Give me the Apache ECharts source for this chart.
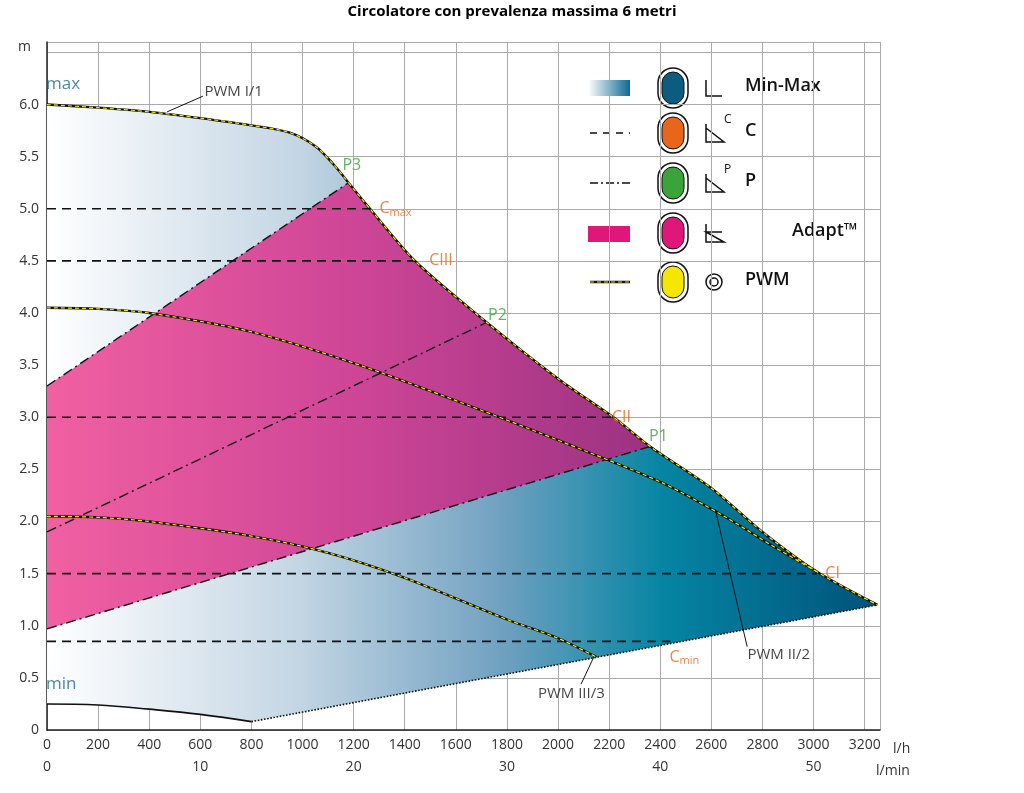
<!DOCTYPE html>
<html>
<head>
<meta charset="UTF-8">
<title>Circolatore</title>
<script src="https://cdn.jsdelivr.net/npm/echarts@6/dist/echarts.min.js"></script>
<style>html,body{margin:0;padding:0;background:#fff}#main{width:1024px;height:793px}</style>
</head>
<body>
<div id="main"></div>
<script>
// curva massima (PWM I/1) e bordo destro
var maxCurve = [[0,6.0],[200,5.97],[400,5.93],[600,5.87],[800,5.8],[950,5.73],[1050,5.6],[1120,5.43],[1180,5.25]];
var maxEdge = [[1180,5.25],[1264,5.0],[1440,4.5],[1721,3.91],[2000,3.37],[2222,2.99],[2360,2.72],[2600,2.32],[2800,1.9],[3012,1.52],[3250,1.2]];
var minCurve = [[0,0.25],[200,0.24],[400,0.2],[600,0.15],[800,0.08]];
var minLine = [[800,0.08],[3250,1.2]];
var pwm2 = [[0,4.05],[200,4.04],[400,4.0],[800,3.82],[1200,3.52],[1600,3.16],[2000,2.78],[2400,2.38],[2650,2.05],[2850,1.75],[3012,1.52]];
var pwm3 = [[0,2.05],[200,2.04],[400,2.0],[800,1.86],[1100,1.7],[1400,1.46],[1800,1.06],[2000,0.88],[2150,0.7]];
var cLevels = [[5.0,1264],[4.5,1440],[3.0,2222],[1.5,3012],[0.85,2440]];
var pLines = [[[0,3.3],[1180,5.25]],[[0,1.9],[1721,3.91]],[[0,0.97],[2360,2.72]]];
var xTicks = [0,200,400,600,800,1000,1200,1400,1600,1800,2000,2200,2400,2600,2800,3000,3200];

var blueArea = maxCurve.concat(maxEdge.slice(1)).concat(minLine.slice().reverse()).concat(minCurve.slice().reverse());
var pinkArea = [[0,0.97],[0,3.3],[1180,5.25]].concat(maxEdge.slice(1,7));

function polySeries(pts, fill, z) {
  return {
    type: 'custom', z: z, silent: true, data: [[0, 0]],
    renderItem: function (params, api) {
      return { type: 'polygon', shape: { points: pts.map(function (p) { return api.coord(p); }) }, style: { fill: fill } };
    }
  };
}
function line(data, color, width, type, z, smooth) {
  return { type: 'line', data: data, symbol: 'none', smooth: smooth || false, z: z, silent: true,
    lineStyle: { color: color, width: width, type: type } };
}
function pwm(data) {
  return [line(data, '#111', 2.4, 'solid', 5, 0.3), line(data, '#f5e600', 1.2, [4, 3], 6, 0.3)];
}

var series = [];
series.push(polySeries(blueArea, new echarts.graphic.LinearGradient(0, 0, 1, 0, [
  { offset: 0, color: '#ffffff' }, { offset: 0.3, color: '#c4d6e4' }, { offset: 0.55, color: '#6fa0c0' },
  { offset: 0.74, color: '#0685a3' }, { offset: 1, color: '#00527a' }]), 1));
series.push(polySeries(pinkArea, new echarts.graphic.LinearGradient(0, 0, 1, 0, [
  { offset: 0, color: '#f060a2' }, { offset: 0.5, color: '#cf4697' }, { offset: 1, color: '#9c3282' }]), 2));
cLevels.forEach(function (c) { series.push(line([[0, c[0]], [c[1], c[0]]], '#111', 1.6, [9, 6], 4)); });
pLines.forEach(function (p) { series.push(line(p, '#111', 1.4, [10, 4, 2, 4], 4)); });
series.push(line(minLine, '#111', 1.6, 'dotted', 5));
series.push(line(minCurve, '#111', 1.6, 'solid', 5, 0.4));
series = series.concat(pwm(maxCurve), pwm(maxEdge), pwm(pwm2), pwm(pwm3));
// linee di richiamo
series.push(line([[470, 5.93], [610, 6.08]], '#111', 1, 'solid', 7));
series.push(line([[2615, 2.12], [2740, 0.8]], '#111', 1, 'solid', 7));
series.push(line([[2140, 0.7], [2090, 0.44]], '#111', 1, 'solid', 7));

function labels(items, color, size) {
  return { type: 'scatter', symbolSize: 0, z: 10, silent: true,
    data: items.map(function (d) { return { value: [d[1], d[2]], name: d[0] }; }),
    label: { show: true, formatter: function (p) { return p.name; }, color: color, fontSize: size,
      fontFamily: 'Open Sans', position: 'right', offset: [-6, 0],
      rich: { s: { fontSize: 11, color: color, padding: [8, 0, 0, 0] } } } };
}
series.push(labels([['C{s|max}', 1305, 5.0], ['CIII', 1500, 4.5], ['CII', 2215, 3.0], ['CI', 3050, 1.5], ['C{s|min}', 2440, 0.7]], '#e8651c', 16));
series.push(labels([['P3', 1160, 5.42], ['P2', 1730, 3.98], ['P1', 2360, 2.82]], '#3aa33a', 16));
series.push(labels([['max', 0, 6.2], ['min', 0, 0.44]], '#1a6d90', 17));
series.push(labels([['PWM I/1', 620, 6.12], ['PWM II/2', 2745, 0.72], ['PWM III/3', 1925, 0.35]], '#111', 15));

var legendRows = [
  { y: 88, text: 'Min-Max', x: 745, oval: '#0b5c80' },
  { y: 133, text: 'C', x: 745, oval: '#e8651c' },
  { y: 183, text: 'P', x: 745, oval: '#3aa33a' },
  { y: 233, text: 'Adapt™', x: 792, oval: '#e0177a' },
  { y: 282, text: 'PWM', x: 745, oval: '#f5e600' }
];
var graphic = [
  { type: 'text', left: 'center', top: 4, style: { text: 'Circolatore con prevalenza massima 6 metri', font: 'bold 15px "Open Sans"', fill: '#000' } },
  { type: 'text', left: 18, top: 40, style: { text: 'm', font: '14px "Open Sans"', fill: '#333' } },
  { type: 'text', left: 893, top: 742, style: { text: 'l/h', font: '14px "Open Sans"', fill: '#333' } },
  { type: 'text', left: 876, top: 764, style: { text: 'l/min', font: '14px "Open Sans"', fill: '#333' } },
  { type: 'rect', shape: { x: 588, y: 80, width: 42, height: 16 }, style: { fill: new echarts.graphic.LinearGradient(0, 0, 1, 0, [{ offset: 0, color: '#ffffff' }, { offset: 1, color: '#0b6a92' }]) } },
  { type: 'line', shape: { x1: 590, y1: 133, x2: 630, y2: 133 }, style: { stroke: '#111', lineWidth: 1.6, lineDash: [7, 6] } },
  { type: 'line', shape: { x1: 590, y1: 183, x2: 630, y2: 183 }, style: { stroke: '#111', lineWidth: 1.4, lineDash: [8, 3, 2, 3] } },
  { type: 'rect', shape: { x: 588, y: 226, width: 42, height: 16 }, style: { fill: '#e0177a' } },
  { type: 'line', shape: { x1: 590, y1: 282, x2: 630, y2: 282 }, style: { stroke: '#111', lineWidth: 2.4 } },
  { type: 'line', shape: { x1: 590, y1: 282, x2: 630, y2: 282 }, style: { stroke: '#f5e600', lineWidth: 1.2, lineDash: [4, 3] } }
];
legendRows.forEach(function (r) {
  graphic.push({ type: 'rect', shape: { x: 658, y: r.y - 20, width: 30, height: 40, r: 15 }, style: { fill: '#fff', stroke: '#111', lineWidth: 1.5 } });
  graphic.push({ type: 'rect', shape: { x: 662, y: r.y - 16, width: 22, height: 32, r: 11 }, style: { fill: r.oval, stroke: '#111', lineWidth: 1 } });
  graphic.push({ type: 'text', left: r.x, top: r.y - 11, style: { text: r.text, font: '600 18px "Open Sans"', fill: '#111' } });
});
graphic.push({ type: 'polyline', shape: { points: [[706, 80], [706, 96], [722, 96]] }, style: { stroke: '#111', fill: null, lineWidth: 1.5 } });
graphic.push({ type: 'polyline', shape: { points: [[706, 124], [706, 142], [724, 142], [706, 128]] }, style: { stroke: '#111', fill: null, lineWidth: 1.5 } });
graphic.push({ type: 'text', left: 724, top: 114, style: { text: 'C', font: '12px "Open Sans"', fill: '#111' } });
graphic.push({ type: 'polyline', shape: { points: [[706, 174], [706, 192], [724, 192], [706, 178]] }, style: { stroke: '#111', fill: null, lineWidth: 1.5 } });
graphic.push({ type: 'text', left: 724, top: 164, style: { text: 'P', font: '12px "Open Sans"', fill: '#111' } });
graphic.push({ type: 'polyline', shape: { points: [[706, 224], [706, 242], [724, 242], [706, 232], [722, 232]] }, style: { stroke: '#111', fill: null, lineWidth: 1.5 } });
graphic.push({ type: 'circle', shape: { cx: 714, cy: 282, r: 8 }, style: { stroke: '#111', fill: null, lineWidth: 1.5 } });
graphic.push({ type: 'circle', shape: { cx: 714, cy: 282, r: 4 }, style: { stroke: '#111', fill: null, lineWidth: 1.5 } });

var chart = echarts.init(document.getElementById('main'));
chart.setOption({
  animation: false,
  grid: { left: 47, right: 144, top: 42, bottom: 63 },
  xAxis: [{
    type: 'value', min: 0, max: 3260, interval: 200, position: 'bottom',
    axisLine: { lineStyle: { color: '#222', width: 1.5 } }, axisTick: { show: false },
    axisLabel: { color: '#333', fontSize: 14, fontFamily: 'Open Sans', showMaxLabel: false,
      formatter: function (v) { return xTicks.indexOf(v) >= 0 ? v : ''; } },
    splitLine: { show: true, lineStyle: { color: '#aaa', width: 1 } }
  }, {
    type: 'value', min: 0, max: 3260, interval: 600, position: 'bottom', offset: 22,
    axisLine: { show: false }, axisTick: { show: false }, splitLine: { show: false },
    axisLabel: { color: '#333', fontSize: 14, fontFamily: 'Open Sans', showMaxLabel: false,
      formatter: function (v) { return v <= 3000 ? v / 60 : ''; } }
  }],
  yAxis: {
    type: 'value', min: 0, max: 6.6, interval: 0.5,
    axisLine: { show: true, lineStyle: { color: '#222', width: 1.5 } }, axisTick: { show: false },
    axisLabel: { color: '#333', fontSize: 14, fontFamily: 'Open Sans', showMaxLabel: false,
      formatter: function (v) { return v <= 6 ? v.toFixed(1).replace('.0', v === 0 ? '' : '.0') : ''; } },
    splitLine: { show: true, lineStyle: { color: '#aaa', width: 1 } }
  },
  graphic: graphic,
  series: series
});
</script>
</body>
</html>
